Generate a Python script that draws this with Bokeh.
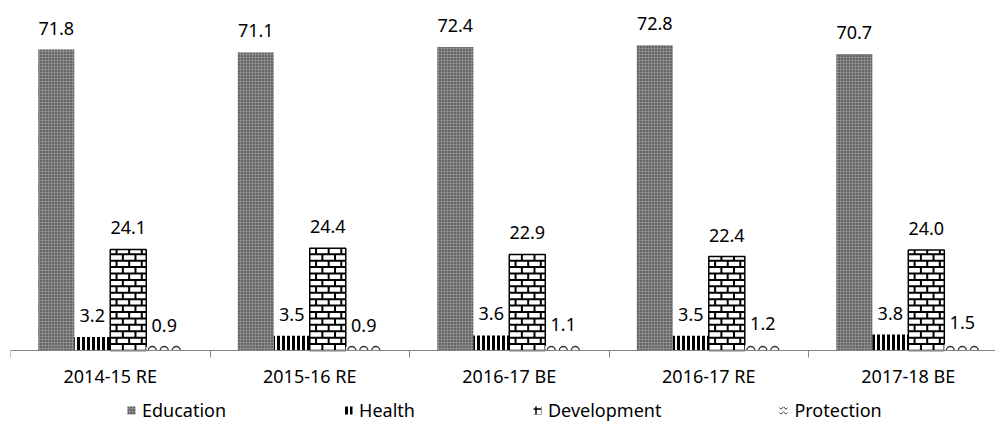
import math
from bokeh.plotting import figure
from bokeh.models import (ColumnDataSource, FixedTicker, LabelSet, Legend, LegendItem, Range1d)
from bokeh.core.properties import value
from bokeh.embed import file_html
from bokeh.resources import INLINE

categories = ["2014-15 RE", "2015-16 RE", "2016-17 BE", "2016-17 RE", "2017-18 BE"]
series = ["Education", "Health", "Development", "Protection"]
education = [71.8, 71.1, 72.4, 72.8, 70.7]
health = [3.2, 3.5, 3.6, 3.5, 3.8]
development = [24.1, 24.4, 22.9, 22.4, 24.0]
protection = [0.9, 0.9, 1.1, 1.2, 1.5]

FONT = "Noto Sans"
offsets = [-0.2707, -0.0902, 0.0902, 0.2707]
bar_w = 0.1805
ROW_H = 1.53      # brick row height (data units)
BRICK_W = 0.0632  # brick width (x units)

n = len(categories)
p = figure(width=995, height=422, output_backend="svg", toolbar_location=None,
           x_range=Range1d(0, 4.937), y_range=Range1d(-17.18, 83.49),
           y_axis_location=None, min_border_left=10, min_border_right=0,
           min_border_top=0, min_border_bottom=0)
p.outline_line_color = None
p.xgrid.visible = False
p.ygrid.visible = False
p.background_fill_color = "white"

xs = [[i + 0.5 + offsets[k] for i in range(n)] for k in range(4)]
all_vals = [education, health, development, protection]

bar_styles = [
    dict(fill_color="#8c8c8c", line_color=None, hatch_pattern="dot", hatch_scale=3,
         hatch_color="#262626", hatch_weight=1),
    dict(fill_color="white", line_color=None, hatch_pattern="vertical_line",
         hatch_scale=5, hatch_weight=3, hatch_color="black"),
    dict(fill_color="white", line_color="black", line_width=1.5),
    dict(fill_color="white", line_color=None),
]
for k in range(4):
    p.vbar(x=xs[k], top=all_vals[k], bottom=0, width=bar_w, **bar_styles[k])

# brick pattern of the Development bars
bx0, by0, bx1, by1 = [], [], [], []
for xc, top in zip(xs[2], development):
    left, right = xc - bar_w / 2, xc + bar_w / 2
    r = 0
    while r * ROW_H < top:
        y0 = r * ROW_H
        y1 = min((r + 1) * ROW_H, top)
        if r > 0:
            bx0.append(left); bx1.append(right); by0.append(y0); by1.append(y0)
        off = 0 if r % 2 == 0 else BRICK_W / 2
        xv = left + off + (BRICK_W if off == 0 else 0)
        while xv < right - 0.004:
            bx0.append(xv); bx1.append(xv); by0.append(y0); by1.append(y1)
            xv += BRICK_W
        r += 1
p.segment(x0=bx0, y0=by0, x1=bx1, y1=by1, line_color="black", line_width=2)

# small arcs of the Protection bars
ax_, ay_ = [], []
for xc in xs[3]:
    left = xc - bar_w / 2
    for m in range(3):
        ax_.append(left + (m + 0.5) * bar_w / 3)
        ay_.append(0)
p.arc(x=ax_, y=ay_, radius=4, radius_units="screen", start_angle=0, end_angle=math.pi,
      line_color="#333333", line_width=1.3)

# legend swatches: zero-width bars that only show in the legend
leg_styles = [
    dict(fill_color="#8c8c8c", line_color=None, hatch_pattern="dot", hatch_scale=3,
         hatch_color="#262626"),
    dict(fill_color="white", line_color=None, hatch_pattern="vertical_line", hatch_scale=5,
         hatch_weight=3, hatch_color="black"),
    dict(fill_color="white", line_color=None, hatch_pattern="cross",
         hatch_scale=6, hatch_weight=1.5, hatch_color="black"),
    dict(fill_color="white", line_color=None, hatch_pattern="horizontal_wave", hatch_scale=5,
         hatch_weight=1, hatch_color="#333333"),
]
leg_rs = [p.vbar(x=xs[k], top=all_vals[k], bottom=0, width=0, **leg_styles[k])
          for k in range(4)]

lx, ly, lt = [], [], []
for k, vals in enumerate(all_vals):
    lx += xs[k]
    ly += vals
    lt += ["%.1f" % v for v in vals]
lab_src = ColumnDataSource(dict(x=lx, y=ly, text=lt))
labels = LabelSet(x="x", y="y", text="text", source=lab_src, text_align="center",
                  text_baseline="alphabetic", y_offset=15, text_font=value(FONT),
                  text_font_size="18px", text_color="black")
p.add_layout(labels)

ax = p.xaxis[0]
ax.fixed_location = 0
ax.ticker = FixedTicker(ticks=[i + 0.5 for i in range(n)], minor_ticks=list(range(n + 1)))
ax.major_label_overrides = {i + 0.5: c for i, c in enumerate(categories)}
ax.major_tick_line_color = None
ax.major_tick_out = 0
ax.major_tick_in = 0
ax.minor_tick_in = 0
ax.minor_tick_out = 7
ax.minor_tick_line_color = "#868686"
ax.axis_line_color = "#868686"
ax.major_label_text_font = FONT
ax.major_label_text_font_size = "18px"
ax.major_label_text_color = "black"
ax.major_label_standoff = 7

leg = Legend(items=[LegendItem(label=name, renderers=[leg_rs[k]]) for k, name in enumerate(series)],
             location=(116, 0), orientation="horizontal", spacing=117,
             background_fill_alpha=0, border_line_color=None, padding=0, margin=0,
             glyph_width=10, glyph_height=10, label_standoff=6,
             label_text_font=FONT, label_text_font_size="18px",
             label_text_color="black")
p.add_layout(leg, "center")

open("out.html", "w").write(file_html(p, INLINE))
